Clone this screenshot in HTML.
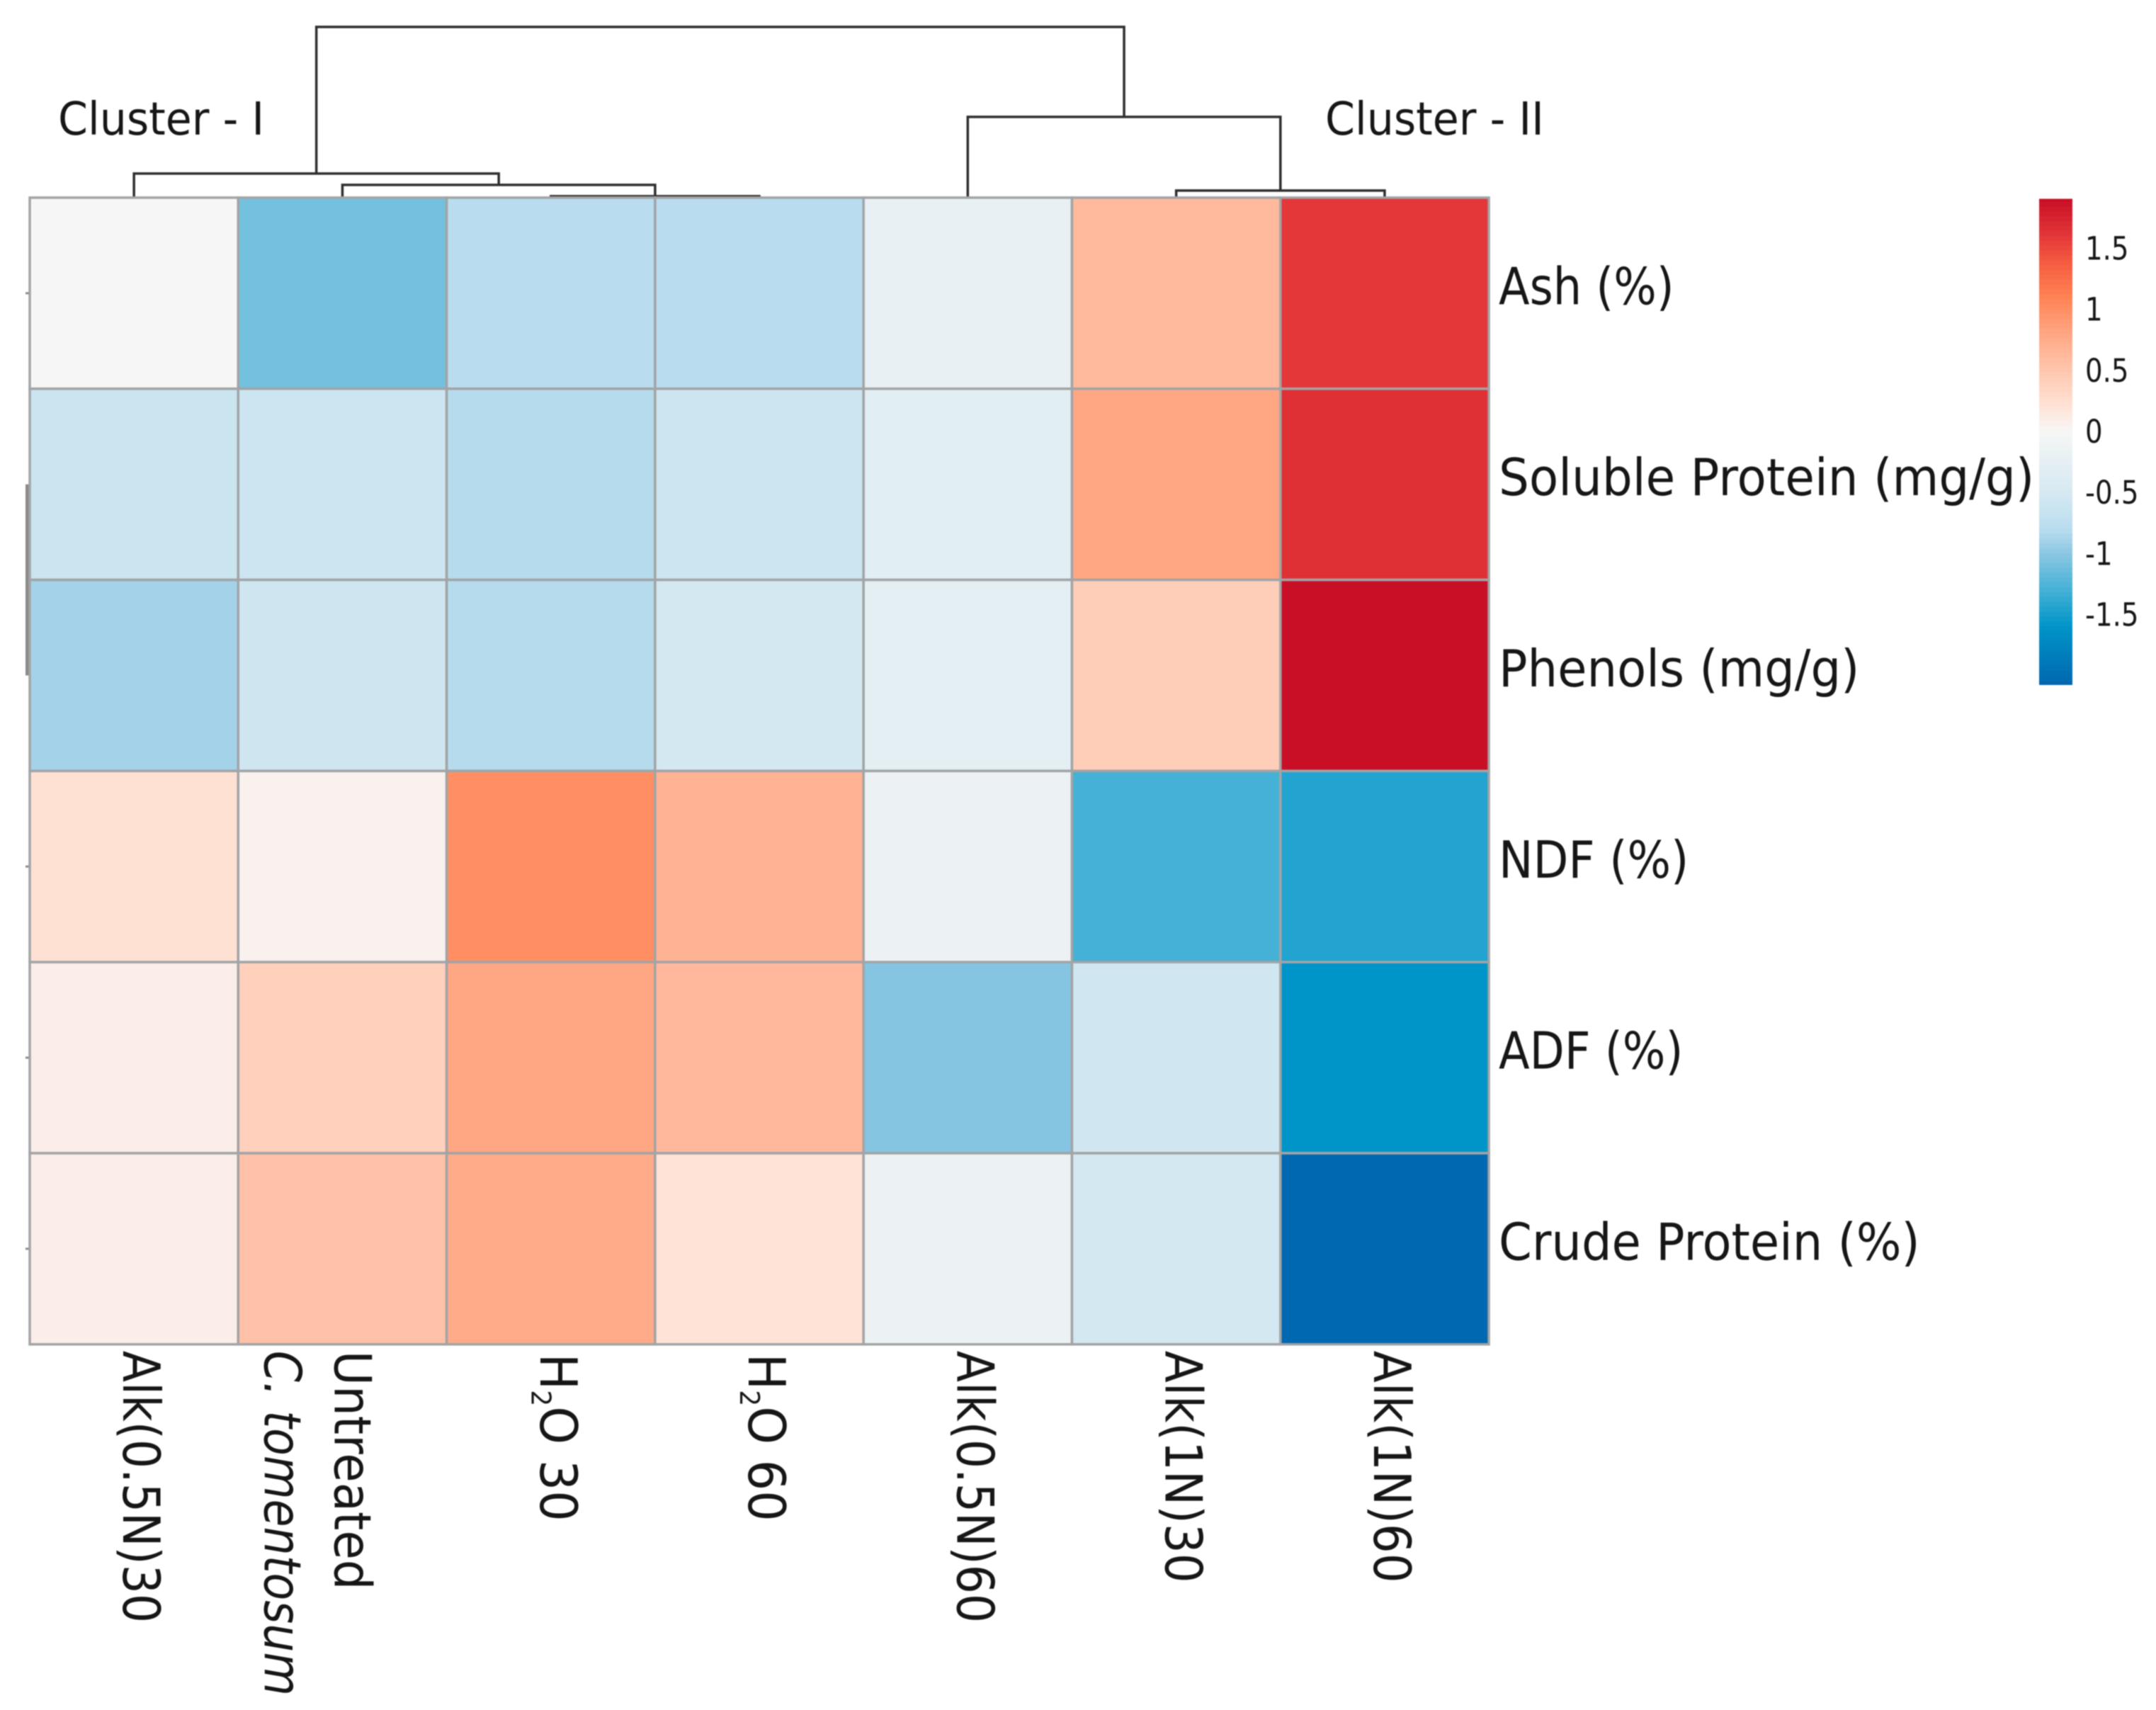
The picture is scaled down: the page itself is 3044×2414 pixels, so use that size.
<!DOCTYPE html>
<html>
<head>
<meta charset="utf-8">
<title>Clustered heatmap</title>
<style>
html,body{margin:0;padding:0;background:#fff;width:3044px;height:2414px;overflow:hidden}
svg{display:block;filter:blur(0.7px)}
text{font-family:"DejaVu Sans","Liberation Sans",sans-serif;fill:#161616}
</style>
</head>
<body>
<svg id="chart" xmlns="http://www.w3.org/2000/svg" width="3044" height="2414" viewBox="0 0 3044 2414">
<rect width="3044" height="2414" fill="#fff"/>
<g id="dendrogram"></g>
<g id="rowStubs"></g>
<g id="cells"></g>
<g id="rowLabels"></g>
<g id="colLabels"></g>
<g id="colorbar"></g>
<g id="clusterLabels"></g>
</svg>
<script>
// ---- data ----
const columns = ["Alk(0.5N)30", "C. tomentosum\nUntreated", "H₂O 30", "H₂O 60", "Alk(0.5N)60", "Alk(1N)30", "Alk(1N)60"];
const rows = ["Ash (%)", "Soluble Protein (mg/g)", "Phenols (mg/g)", "NDF (%)", "ADF (%)", "Crude Protein (%)"];
const ashValues = [0, -1.1, -0.8, -0.8, -0.22, 0.62, 1.6];
const solubleProteinValues = [-0.62, -0.6, -0.82, -0.6, -0.32, 0.8, 1.65];
const phenolsValues = [-0.9, -0.57, -0.82, -0.52, -0.28, 0.42, 1.9];
const ndfValues = [0.22, 0.05, 1.0, 0.68, -0.16, -1.3, -1.45];
const adfValues = [0.1, 0.4, 0.8, 0.63, -1.03, -0.56, -1.6];
const crudeProteinValues = [0.1, 0.55, 0.75, 0.2, -0.16, -0.52, -2.07];
const legendTicks = [1.5, 1, 0.5, 0, -0.5, -1, -1.5];
const legendMin = -2.08;
const legendMax = 1.9;
const colorStopValues = [-2.08, -1.6, -1.3, -1.0, -0.8, -0.5, -0.2, 0, 0.2, 0.5, 0.8, 1.1, 1.4, 1.6, 1.9];
const colorStopHexes = ["#0066b0", "#0095c8", "#45b1d6", "#8cc7e3", "#b9ddee", "#d6e9f2", "#e9f1f4", "#f6f6f6", "#ffe3d7", "#ffc6ae", "#ffa682", "#ff8254", "#f4583f", "#e33739", "#c90f25"];
// dendrogram merges: [child a, child b, height]; ids 0-6 are leaves, merged nodes continue from 7
const merges = [[2, 3, 2], [1, 7, 18], [0, 8, 34], [5, 6, 10], [4, 10, 114], [9, 11, 241]];
const clusterNames = ["Cluster - I", "Cluster - II"];

const matrix = [ashValues, solubleProteinValues, phenolsValues, ndfValues, adfValues, crudeProteinValues];

// ---- axes ----
const SVGNS = "http://www.w3.org/2000/svg";
const plotLeft = 42, plotTop = 279, cellW = 294.3, cellH = 269.8;
const xLeft = i => plotLeft + cellW * i;
const xCenter = i => xLeft(i) + cellW / 2;
const yTop = j => plotTop + cellH * j;
const yCenter = j => yTop(j) + cellH / 2;
const dendroY = h => plotTop - h;
const legendY = v => 608 - 172.3 * v;

// horizontal fit of the substitute font to the original label widths, keyed by label
const rowLabelFit = {"Ash (%)": 0.885, "Soluble Protein (mg/g)": 0.939, "Phenols (mg/g)": 0.934, "NDF (%)": 0.90, "ADF (%)": 0.887, "Crude Protein (%)": 0.932};
const colLabelFit = {"C. tomentosum": 0.88, "Untreated": 0.935, "H₂O 30": 0.95, "H₂O 60": 0.95, "Alk(1N)30": 0.915, "Alk(1N)60": 0.915};

function hexToRgb(h) {
  return [parseInt(h.slice(1, 3), 16), parseInt(h.slice(3, 5), 16), parseInt(h.slice(5, 7), 16)];
}
function colorOf(v) {
  const n = colorStopValues.length;
  if (v <= colorStopValues[0]) return colorStopHexes[0];
  if (v >= colorStopValues[n - 1]) return colorStopHexes[n - 1];
  let k = 0;
  while (v > colorStopValues[k + 1]) k++;
  const t = (v - colorStopValues[k]) / (colorStopValues[k + 1] - colorStopValues[k]);
  const a = hexToRgb(colorStopHexes[k]), b = hexToRgb(colorStopHexes[k + 1]);
  return "rgb(" + a.map((c, i) => Math.round(c + (b[i] - c) * t)).join(",") + ")";
}
function el(tag, attrs, parent) {
  const e = document.createElementNS(SVGNS, tag);
  for (const key in attrs) e.setAttribute(key, attrs[key]);
  parent.appendChild(e);
  return e;
}
function slug(s) {
  return s.toLowerCase().replace(/[^a-z0-9]+/g, "-").replace(/^-|-$/g, "");
}

// ---- heatmap cells ----
const cellsG = document.getElementById("cells");
matrix.forEach((rowValues, j) => {
  rowValues.forEach((v, i) => {
    const cell = el("rect", {x: xLeft(i), y: yTop(j), width: cellW, height: cellH, fill: colorOf(v), stroke: "#a2a4a6", "stroke-width": 3.5}, cellsG);
    
    
  });
});

// ---- dendrogram ----
const dendroG = document.getElementById("dendrogram");
const nodeX = columns.map((c, i) => xCenter(i));
const nodeH = columns.map(() => 0);
merges.forEach((m, k) => {
  const xa = nodeX[m[0]], xb = nodeX[m[1]], h = m[2];
  const d = "M" + xa + " " + dendroY(nodeH[m[0]]) + "V" + dendroY(h) + "H" + xb + "V" + dendroY(nodeH[m[1]]);
  const branch = el("path", {d: d, fill: "none", stroke: "#2e2e2e", "stroke-width": 3.5}, dendroG);
  
  
  nodeX.push((xa + xb) / 2);
  nodeH.push(h);
});

// ---- faint remnant of a row dendrogram at the left edge ----
const stubsG = document.getElementById("rowStubs");
const stubBar = el("rect", {x: 36, y: yCenter(1), width: 5, height: yCenter(2) - yCenter(1), fill: "#8a8a8a"}, stubsG);


[0, 3, 4, 5].forEach(j => {
  const tick = el("rect", {x: 36, y: yCenter(j) - 1.5, width: 6, height: 3, fill: "#8a8a8a"}, stubsG);
  
  
});

// ---- row labels ----
const rowLabelsG = document.getElementById("rowLabels");
rows.forEach((name, j) => {
  const fit = rowLabelFit[name] || 0.92;
  const t = el("text", {transform: "translate(2116," + (yCenter(j) + 15.5) + ") scale(" + fit + ",1)", "font-size": 72}, rowLabelsG);
  t.textContent = name;
  
  
});

// ---- column labels (rotated, reading downward) ----
const colLabelsG = document.getElementById("colLabels");
function colText(str, baseX, startY, italic) {
  const fit = colLabelFit[str] || 0.9;
  const t = el("text", {transform: "translate(" + baseX + "," + startY + ") rotate(90) scale(" + fit + ",1)", "font-size": 72}, colLabelsG);
  if (italic) t.setAttribute("font-style", "italic");
  const parts = str.split("₂");
  if (parts.length === 2) {
    el("tspan", {}, t).textContent = parts[0];
    el("tspan", {dy: 12, "font-size": 38}, t).textContent = "2";
    el("tspan", {dy: -12}, t).textContent = parts[1];
  } else {
    t.textContent = str;
  }
  
  
}
const labelTop = yTop(rows.length) + 9;
columns.forEach((name, i) => {
  const lines = name.split("\n");
  if (lines.length === 2) {
    colText(lines[0], xCenter(i) - 110, labelTop, true);
    colText(lines[1], xCenter(i) - 11, labelTop, false);
  } else {
    const sub = name.indexOf("₂") >= 0;
    colText(name, xCenter(i) - 15, labelTop + (sub ? 4 : 0), false);
  }
});

// ---- color legend ----
const barG = document.getElementById("colorbar");
const bandStep = 0.04;
for (let v = legendMin; v < legendMax; v += bandStep) {
  const top = legendY(Math.min(v + bandStep, legendMax));
  const band = el("rect", {x: 2879, y: top, width: 47, height: legendY(v) - top + 0.6, fill: colorOf(v + bandStep / 2)}, barG);
  
  
}
legendTicks.forEach(v => {
  const t = el("text", {transform: "translate(2944," + (legendY(v) + 17) + ") scale(0.86,1)", "font-size": 45, fill: "#222"}, barG);
  t.textContent = String(v);
  
  
});

// ---- cluster labels ----
const clusterG = document.getElementById("clusterLabels");
clusterNames.forEach((name, i) => {
  const t = el("text", {transform: "translate(" + (i === 0 ? 82 : 1871) + ",190) scale(0.94,1)", "font-size": 64}, clusterG);
  t.textContent = name;
  
  
});
</script>
</body>
</html>
